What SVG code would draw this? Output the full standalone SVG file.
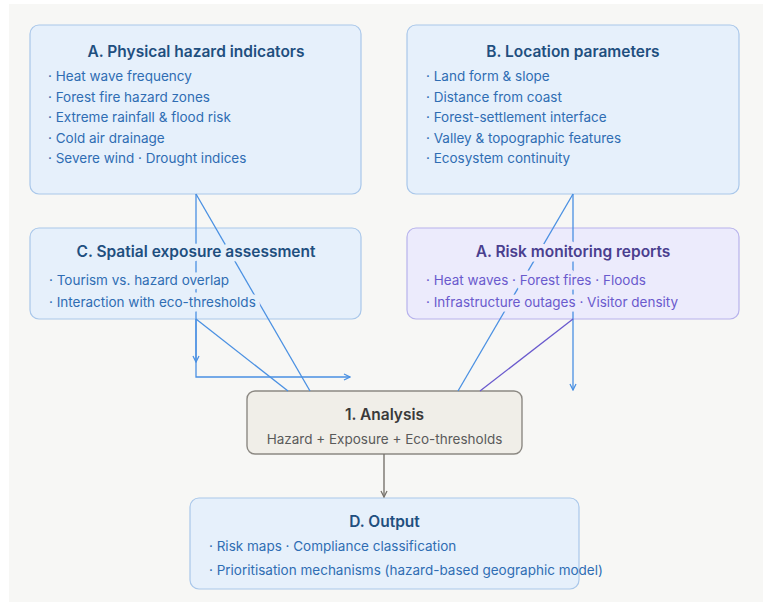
<svg xmlns="http://www.w3.org/2000/svg" width="763" height="602" viewBox="0 0 763 602">
<defs>
<style>
.bg{fill:#f7f7f5}
.bbox{fill:#e6f0fb;stroke:#a9c7ea;stroke-width:1.2}
.pbox{fill:#ecebfc;stroke:#b7b2ec;stroke-width:1.2}
.gbox{fill:#f0eee8;stroke:#8c8983;stroke-width:1.4}
text{font-family:Inter,"Open Sans","Liberation Sans",sans-serif}
.t{font-size:15.5px;font-weight:600;text-anchor:middle}
.i{font-size:13.5px}
.bt{fill:#1f4f7f}
.bi{fill:#2f6db3}
.pt{fill:#4a3f8f}
.pi{fill:#6a5acd}
.hb{paint-order:stroke;stroke:#e6f0fb;stroke-width:9;stroke-linejoin:round}
.hp{paint-order:stroke;stroke:#ecebfc;stroke-width:9;stroke-linejoin:round}
.gt{fill:#3a3a3a}
.gi{fill:#5a5a5a}
.cb{fill:none;stroke:#4a90e2;stroke-width:1.3}
.cp{fill:none;stroke:#6a5acd;stroke-width:1.3}
.cg{fill:none;stroke:#77736d;stroke-width:1.4}
</style>
<marker id="ab" viewBox="0 0 8 8" refX="7" refY="4" markerWidth="8" markerHeight="8" markerUnits="userSpaceOnUse" orient="auto"><path d="M1,1 L7,4 L1,7" fill="none" stroke="#4a90e2" stroke-width="1.3"/></marker>
<marker id="ag" viewBox="0 0 8 8" refX="7" refY="4" markerWidth="8" markerHeight="8" markerUnits="userSpaceOnUse" orient="auto"><path d="M1,1 L7,4 L1,7" fill="none" stroke="#77736d" stroke-width="1.3"/></marker>
</defs>
<rect class="bg" x="9" y="4" width="754" height="598"/>

<g id="boxA"><rect class="bbox" x="30" y="25" width="331" height="169" rx="9"/></g>
<g id="boxB"><rect class="bbox" x="407" y="25" width="332" height="169" rx="9"/></g>
<g id="boxC"><rect class="bbox" x="30" y="228" width="331" height="91" rx="9"/></g>
<g id="boxR"><rect class="pbox" x="407" y="228" width="332" height="91" rx="9"/></g>
<g id="boxAn"><rect class="gbox" x="247" y="391" width="275" height="63" rx="8"/></g>
<g id="boxD"><rect class="bbox" x="190" y="498" width="389" height="91" rx="9"/></g>

<g id="connectors">
<path class="cb" d="M196,194 L196,362" marker-end="url(#ab)"/>
<path class="cb" d="M196,194 L310,391"/>
<path class="cb" d="M196,319 L288,391"/>
<path class="cb" d="M196,319 L196,377 L350,377" marker-end="url(#ab)"/>
<path class="cb" d="M573,194 L458,391"/>
<path class="cb" d="M573,194 L573,390" marker-end="url(#ab)"/>
<path class="cp" d="M573,319 L480,391"/>
<path class="cg" d="M384,454 L384,497" marker-end="url(#ag)"/>
</g>

<g id="textA">
<text class="t bt" x="196" y="57">A. Physical hazard indicators</text>
<text class="i bi" x="48" y="81">· Heat wave frequency</text>
<text class="i bi" x="48" y="101.5">· Forest fire hazard zones</text>
<text class="i bi" x="48" y="122">· Extreme rainfall &amp; flood risk</text>
<text class="i bi" x="48" y="142.5">· Cold air drainage</text>
<text class="i bi" x="48" y="163">· Severe wind · Drought indices</text>
</g>
<g id="textB">
<text class="t bt" x="573" y="57">B. Location parameters</text>
<text class="i bi" x="426" y="81">· Land form &amp; slope</text>
<text class="i bi" x="426" y="101.5">· Distance from coast</text>
<text class="i bi" x="426" y="122">· Forest-settlement interface</text>
<text class="i bi" x="426" y="142.5">· Valley &amp; topographic features</text>
<text class="i bi" x="426" y="163">· Ecosystem continuity</text>
</g>
<g id="textC">
<text class="t bt hb" x="196" y="257">C. Spatial exposure assessment</text>
<text class="i bi hb" x="49" y="285">· Tourism vs. hazard overlap</text>
<text class="i bi hb" x="49" y="307">· Interaction with eco-thresholds</text>
</g>
<g id="textR">
<text class="t pt hp" x="573" y="257">A. Risk monitoring reports</text>
<text class="i pi hp" x="426" y="285">· Heat waves · Forest fires · Floods</text>
<text class="i pi hp" x="426" y="307">· Infrastructure outages · Visitor density</text>
</g>
<g id="textAn">
<text class="t gt" x="384.5" y="420">1. Analysis</text>
<text class="i gi" x="384.5" y="444" text-anchor="middle">Hazard + Exposure + Eco-thresholds</text>
</g>
<g id="textD">
<text class="t bt" x="384.5" y="527">D. Output</text>
<text class="i bi" x="209" y="551">· Risk maps · Compliance classification</text>
<text class="i bi" x="209" y="575">· Prioritisation mechanisms (hazard-based geographic model)</text>
</g>
</svg>
